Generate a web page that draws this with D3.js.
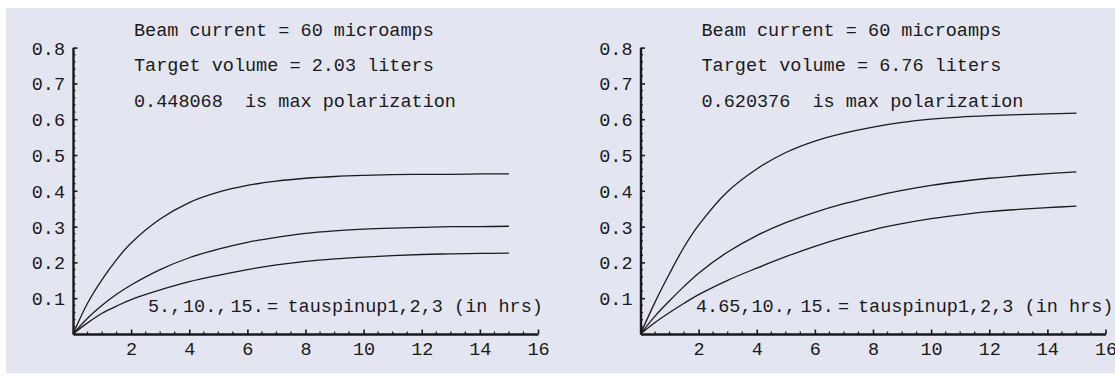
<!DOCTYPE html>
<html>
<head>
<meta charset="utf-8">
<script src="https://cdn.jsdelivr.net/npm/d3@7"></script>
<style>
  html, body { margin: 0; padding: 0; background: #ffffff; }
  svg { display: block; }
  text { font-family: "Liberation Mono", "DejaVu Sans Mono", monospace; fill: #1a1a1a; white-space: pre; }
</style>
</head>
<body>
<svg id="chart" width="1115" height="383"></svg>
<script>
// Spin-up time in hours at which the polarization curves are sampled
const tHours = [0, 0.5, 1, 1.5, 2, 3, 4, 5, 6, 7, 8, 9, 10, 11, 12, 13, 14, 15];

// 2.03 liter target
const smallTargetTau1 = [0, 0.086, 0.152, 0.208, 0.254, 0.321, 0.367, 0.396, 0.415, 0.427, 0.435, 0.440, 0.443, 0.445, 0.446, 0.446, 0.447, 0.447];
const smallTargetTau2 = [0, 0.044, 0.080, 0.111, 0.137, 0.180, 0.213, 0.237, 0.256, 0.270, 0.281, 0.288, 0.293, 0.296, 0.298, 0.300, 0.300, 0.301];
const smallTargetTau3 = [0, 0.031, 0.058, 0.078, 0.096, 0.123, 0.146, 0.164, 0.180, 0.193, 0.203, 0.210, 0.215, 0.219, 0.222, 0.224, 0.225, 0.226];

// 6.76 liter target
const largeTargetTau1 = [0, 0.089, 0.169, 0.243, 0.304, 0.398, 0.461, 0.507, 0.539, 0.561, 0.578, 0.591, 0.600, 0.606, 0.610, 0.613, 0.615, 0.617];
const largeTargetTau2 = [0, 0.050, 0.093, 0.133, 0.170, 0.229, 0.275, 0.311, 0.340, 0.364, 0.384, 0.401, 0.415, 0.426, 0.435, 0.442, 0.448, 0.453];
const largeTargetTau3 = [0, 0.032, 0.060, 0.086, 0.110, 0.150, 0.184, 0.216, 0.245, 0.270, 0.291, 0.308, 0.322, 0.333, 0.342, 0.348, 0.353, 0.357];

// Axis ticks
const xTickValues = [2, 4, 6, 8, 10, 12, 14, 16];
const yTickValues = [0.1, 0.2, 0.3, 0.4, 0.5, 0.6, 0.7, 0.8];

// Annotation text
const smallTargetNotes = ["Beam current = 60 microamps", "Target volume = 2.03 liters", "0.448068  is max polarization"];
const largeTargetNotes = ["Beam current = 60 microamps", "Target volume = 6.76 liters", "0.620376  is max polarization"];
const smallTargetTauLabel = ["5.,", "10.,", "15.", "=", "tauspinup1,2,3 (in hrs)"];
const largeTargetTauLabel = ["4.65,", "10.,", "15.", "=", "tauspinup1,2,3 (in hrs)"];

const panels = [
  { originX: 73, series: [smallTargetTau1, smallTargetTau2, smallTargetTau3], notes: smallTargetNotes,
    tauLabel: smallTargetTauLabel, tauOffsets: [75, 110, 157.5, 194, 214.5] },
  { originX: 640.5, series: [largeTargetTau1, largeTargetTau2, largeTargetTau3], notes: largeTargetNotes,
    tauLabel: largeTargetTauLabel, tauOffsets: [55.5, 111, 160, 197.5, 217.5] }
];

const svg = d3.select("#chart");
const FONT = "18.5px";

// panel backdrop
svg.append("rect")
  .attr("x", 6).attr("y", 8)
  .attr("width", 1115 - 6).attr("height", 365)
  .attr("fill", "#e3e5f0");

const originY = 334;
const yTop = 47.6;
const xLength = 465;

panels.forEach(p => {
  const g = svg.append("g");
  const x = d3.scaleLinear().domain([0, 16]).range([p.originX, p.originX + xLength]);
  const y = d3.scaleLinear().domain([0, 0.8]).range([originY, yTop]);

  // minor ticks
  const xMinor = d3.range(0.5, 16.01, 0.5).filter(v => Math.abs(v / 2 - Math.round(v / 2)) > 1e-6);
  const yMinor = d3.range(0.02, 0.801, 0.02).filter(v => Math.abs(v * 10 - Math.round(v * 10)) > 1e-6);

  g.selectAll(".xminor").data(xMinor).join("line")
    .attr("x1", d => x(d)).attr("x2", d => x(d))
    .attr("y1", originY).attr("y2", originY - 2.5)
    .attr("stroke", "#222").attr("stroke-width", 1.3);
  g.selectAll(".yminor").data(yMinor).join("line")
    .attr("x1", p.originX).attr("x2", p.originX + 2.5)
    .attr("y1", d => y(d)).attr("y2", d => y(d))
    .attr("stroke", "#222").attr("stroke-width", 1.3);

  // major axes
  const xAxis = d3.axisBottom(x).tickValues(xTickValues).tickSizeInner(-4.5).tickSizeOuter(0).tickPadding(10)
    .tickFormat(d3.format("d"));
  const yAxis = d3.axisLeft(y).tickValues(yTickValues).tickSizeInner(-4.5).tickSizeOuter(0).tickPadding(8)
    .tickFormat(d3.format(".1f"));

  const gx = g.append("g").attr("transform", `translate(0,${originY})`).call(xAxis);
  const gy = g.append("g").attr("transform", `translate(${p.originX},0)`).call(yAxis);

  [gx, gy].forEach(a => {
    a.select(".domain").attr("stroke", "#1a1a1a").attr("stroke-width", 2.4);
    a.selectAll(".tick line").attr("stroke", "#1a1a1a").attr("stroke-width", 1.6);
    a.selectAll(".tick text").attr("fill", "#1a1a1a").style("font-family", "'Liberation Mono', monospace")
      .style("font-size", FONT);
  });
  gx.selectAll(".tick text").attr("dy", "0.71em").attr("y", 8);
  gy.selectAll(".tick text").attr("dy", "0.35em");

  // polarization curves
  const line = d3.line()
    .x((d, i) => x(tHours[i]))
    .y(d => y(d))
    .curve(d3.curveCatmullRom.alpha(0.5));

  g.selectAll(".curve").data(p.series).join("path")
    .attr("d", d => line(d))
    .attr("fill", "none")
    .attr("stroke", "#1c1c1c")
    .attr("stroke-width", 1.3);

  // annotation lines
  g.selectAll(".note").data(p.notes).join("text")
    .attr("x", p.originX + 61)
    .attr("y", (d, i) => 35.7 + i * 35.5)
    .style("font-size", FONT)
    .text(d => d);

  const tau = g.append("text").attr("y", 311.7).style("font-size", FONT);
  tau.selectAll("tspan").data(p.tauLabel).join("tspan")
    .attr("x", (d, i) => p.originX + p.tauOffsets[i])
    .text(d => d);
});
</script>
</body>
</html>
